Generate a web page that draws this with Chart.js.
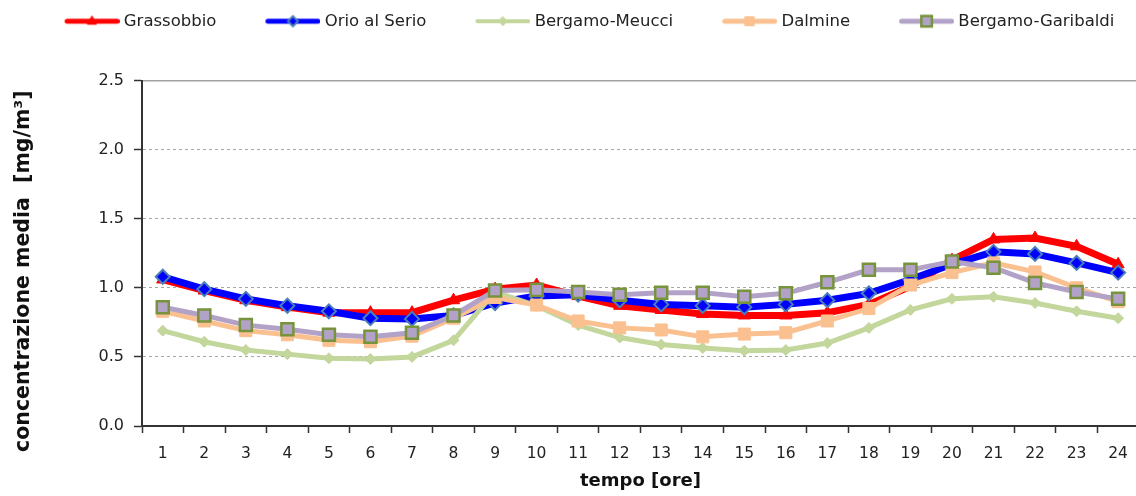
<!DOCTYPE html>
<html>
<head>
<meta charset="utf-8">
<script src="https://cdn.jsdelivr.net/npm/chart.js@4.4.0/dist/chart.umd.min.js"></script>
<style>
html,body{margin:0;padding:0;background:#fff;overflow:hidden;width:1136px;height:496px}
canvas{display:block}
</style>
</head>
<body>
<canvas id="c" width="1140" height="496"></canvas>
<script>
// ---- data ----
const hours = ['1','2','3','4','5','6','7','8','9','10','11','12','13','14','15','16','17','18','19','20','21','22','23','24'];
const seriesNames = ['Grassobbio','Orio al Serio','Bergamo-Meucci','Dalmine','Bergamo-Garibaldi'];
const grassobbio = [1.06,0.98,0.91,0.86,0.82,0.82,0.82,0.91,0.99,1.02,0.94,0.87,0.84,0.81,0.80,0.80,0.82,0.88,1.01,1.20,1.35,1.36,1.30,1.17];
const orioAlSerio = [1.08,0.99,0.92,0.87,0.83,0.78,0.775,0.80,0.89,0.94,0.95,0.91,0.88,0.87,0.86,0.88,0.91,0.96,1.06,1.17,1.26,1.245,1.18,1.11];
const bergamoMeucci = [0.69,0.61,0.55,0.52,0.49,0.485,0.50,0.62,0.97,0.87,0.73,0.64,0.59,0.565,0.545,0.55,0.60,0.71,0.84,0.92,0.935,0.89,0.83,0.78];
const dalmine = [0.83,0.76,0.69,0.66,0.62,0.61,0.65,0.78,0.93,0.875,0.76,0.71,0.695,0.645,0.665,0.675,0.76,0.85,1.02,1.11,1.18,1.115,1.00,0.90];
const bergamoGaribaldi = [0.86,0.80,0.73,0.70,0.66,0.645,0.675,0.80,0.98,0.985,0.97,0.95,0.965,0.965,0.935,0.96,1.04,1.13,1.13,1.19,1.145,1.035,0.97,0.92];
const yMin = 0, yMax = 2.5, yStep = 0.5;
const xTitle = 'tempo [ore]';
const yTitle = 'concentrazione media  [mg/m³]';

// ---- styles ----
const FONT = 'DejaVu Sans';
Chart.defaults.font.family = FONT;

const styles = [
  {color:'#FF0000', width:7, point:'triangle', radius:7, pbg:'#FF0000', pborder:'#FF0000', pbw:1, legLine:5, legR:5},
  {color:'#0000FF', width:7, point:'rectRot', radius:7, pbg:'#0000FF', pborder:'#4A7EBB', pbw:2, legLine:5, legR:5},
  {color:'#C3D69B', width:5, point:'rectRot', radius:5.5, pbg:'#C3D69B', pborder:'#C3D69B', pbw:1, legLine:4, legR:4.5},
  {color:'#FAC090', width:5, point:'rect', radius:8.5, pbg:'#FAC090', pborder:'#FAC090', pbw:1, legLine:5, legR:6},
  {color:'#B3A2C7', width:5, point:'rect', radius:8.5, pbg:'#B3A2C7', pborder:'#77933C', pbw:2.5, legLine:5, legR:7}
];
const seriesData = [grassobbio, orioAlSerio, bergamoMeucci, dalmine, bergamoGaribaldi];

const PSW = 90;      // legend point-style box width
const LEG_LINE = 55; // visible legend line length
function makeIcon(s){
  const W = PSW + 8, H = 20;
  const c = document.createElement('canvas'); c.width = W; c.height = H;
  const g = c.getContext('2d');
  const cy = H/2, x0 = W - LEG_LINE, x1 = W;
  g.strokeStyle = s.color; g.lineWidth = s.legLine; g.lineCap = 'round';
  g.beginPath(); g.moveTo(x0 + s.legLine/2, cy); g.lineTo(x1 - s.legLine/2, cy); g.stroke();
  const cx = (x0 + x1)/2;
  g.fillStyle = s.pbg; g.strokeStyle = s.pborder; g.lineWidth = s.pbw;
  g.beginPath();
  if (s.point === 'triangle') {
    const r = s.legR;
    g.moveTo(cx, cy - r); g.lineTo(cx + r*0.9, cy + r*0.6); g.lineTo(cx - r*0.9, cy + r*0.6); g.closePath();
  } else if (s.point === 'rectRot') {
    const r = s.legR;
    g.moveTo(cx, cy - r); g.lineTo(cx + r, cy); g.lineTo(cx, cy + r); g.lineTo(cx - r, cy); g.closePath();
  } else {
    const h = s.legR * 0.75;
    g.rect(cx - h, cy - h, 2*h, 2*h);
  }
  g.fill(); g.stroke();
  return c;
}
const icons = styles.map(makeIcon);

const datasets = seriesNames.map((name, i) => ({
  label: name,
  data: seriesData[i],
  borderColor: styles[i].color,
  backgroundColor: styles[i].pbg,
  borderWidth: styles[i].width,
  pointStyle: styles[i].point,
  pointRadius: styles[i].radius,
  pointHoverRadius: styles[i].radius,
  pointBackgroundColor: styles[i].pbg,
  pointBorderColor: styles[i].pborder,
  pointBorderWidth: styles[i].pbw,
  tension: 0,
  fill: false,
  order: seriesNames.length - i
}));

new Chart(document.getElementById('c'), {
  type: 'line',
  data: { labels: hours, datasets },
  options: {
    responsive: false,
    animation: false,
    devicePixelRatio: 1,
    layout: { autoPadding: false, padding: { top: 3, left: 0, right: 0, bottom: 0 } },
    plugins: {
      tooltip: { enabled: false },
      title: { display: true, text: '', weight: 500, font: { size: 10 }, padding: { top: 15, bottom: 14 } },
      legend: {
        position: 'top',
        align: 'center',
        labels: {
          usePointStyle: true,
          pointStyleWidth: PSW,
          padding: 10,
          color: '#222',
          font: { family: FONT, size: 16.5 },
          sort: (a, b) => a.datasetIndex - b.datasetIndex,
          generateLabels: (chart) => {
            const items = Chart.defaults.plugins.legend.labels.generateLabels(chart);
            items.forEach(it => { it.pointStyle = icons[it.datasetIndex]; it.lineWidth = 0; });
            return items;
          }
        }
      }
    },
    scales: {
      x: {
        offset: true,
        grid: { offset: true, drawOnChartArea: false, tickLength: 7, tickColor: '#333', tickWidth: 1.5 },
        border: { color: '#333', width: 2 },
        ticks: { color: '#222', font: { size: 15.5 }, padding: 12, maxRotation: 0, autoSkip: false },
        title: { display: true, text: xTitle, color: '#111', font: { size: 18, weight: 'bold' }, padding: { top: 0, bottom: 4 } },
        afterFit: (s) => { s.height = 70; }
      },
      x2: {
        position: 'top',
        type: 'category',
        offset: true,
        grid: { display: false, drawTicks: false },
        ticks: { display: false },
        border: { display: true, color: '#A0A0A0', width: 1.5 }
      },
      y: {
        min: yMin, max: yMax,
        ticks: { stepSize: yStep, callback: (v) => Number(v).toFixed(1), color: '#222', font: { size: 16 }, padding: 10 },
        grid: { color: '#A6A6A6', lineWidth: 1, tickColor: '#333', tickLength: 8, tickWidth: 1.5 },
        border: { color: '#333', width: 2, dash: [3, 3] },
        title: { display: true, text: yTitle + '     ', color: '#111', font: { size: 20.5, weight: 'bold' }, padding: { top: 11, bottom: 0 } },
        afterFit: (s) => { s.width = 142; }
      }
    }
  }
});
</script>
</body>
</html>
